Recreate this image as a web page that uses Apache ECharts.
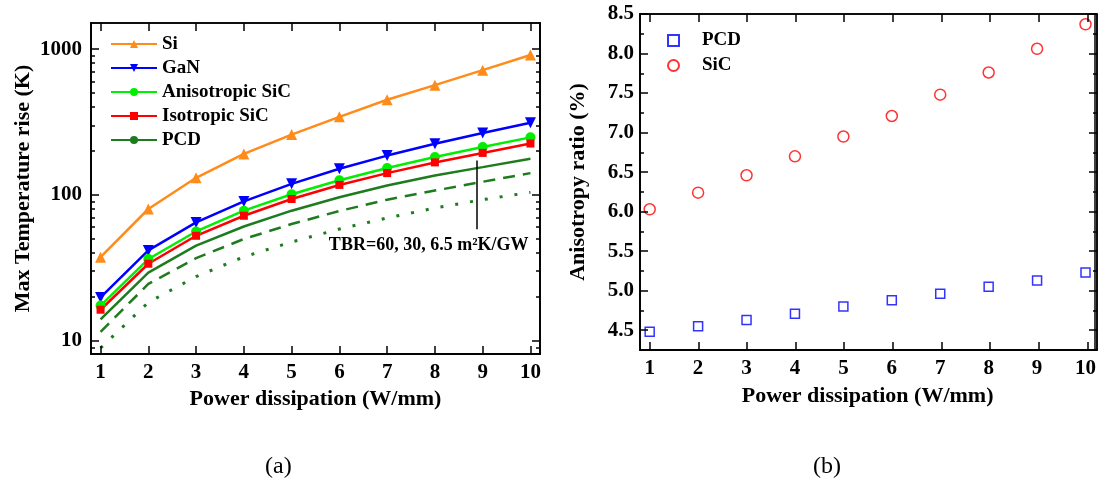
<!DOCTYPE html>
<html>
<head>
<meta charset="utf-8">
<script src="https://cdn.jsdelivr.net/npm/echarts@6/dist/echarts.min.js"></script>
<style>
  html, body { margin: 0; padding: 0; background: #fff; }
  #wrap { position: relative; width: 1099px; height: 487px; }
  #chart, #ticks { position: absolute; left: 0; top: 0; width: 1099px; height: 487px; }
  #ticks { pointer-events: none; }
</style>
</head>
<body>
<div id="wrap">
  <div id="chart"></div>
  <div id="ticks"></div>
</div>
<script>
// power dissipation (W/mm)
const power = [1, 2, 3, 4, 5, 6, 7, 8, 9, 10];

// (a) max temperature rise (K)
const tSi = [37.4, 80, 131, 191, 259, 343, 449, 566, 717, 910];
const tGaN = [19.8, 41.6, 64.7, 90.2, 119, 151, 186, 224, 266, 312];
const tAnisoSiC = [17.4, 36.3, 56.1, 77.9, 101, 126, 153, 182, 213, 248];
const tIsoSiC = [16.3, 33.7, 52.4, 71.9, 93.7, 117, 141, 167, 194, 225];
const tPcd60 = [14.0, 29.3, 44.8, 60.7, 77.9, 96.2, 116, 136, 155, 177];
const tPcd30 = [11.5, 24.5, 36.8, 49.8, 63.1, 77.5, 92.7, 107, 123, 141];
const tPcd6p5 = [8.9, 18.3, 27.5, 37.6, 47.5, 58.3, 69.4, 81.3, 92.7, 104];

// (b) anisotropy ratio (%)
const ratioPcd = [4.48, 4.55, 4.63, 4.71, 4.80, 4.88, 4.96, 5.05, 5.13, 5.23];
const ratioSiC = [6.03, 6.24, 6.46, 6.70, 6.95, 7.21, 7.48, 7.76, 8.06, 8.37];

// ticks
const logMajor = [10, 100, 1000];
const logMinor = [9, 20, 30, 40, 50, 60, 70, 80, 90, 200, 300, 400, 500, 600, 700, 800, 900];
const ratioMajor = [4.5, 5.0, 5.5, 6.0, 6.5, 7.0, 7.5, 8.0, 8.5];
const ratioMinor = [4.75, 5.25, 5.75, 6.25, 6.75, 7.25, 7.75, 8.25];

const FONT = '"Liberation Serif", "Times New Roman", serif';
const pairs = ys => power.map((x, i) => [x, ys[i]]);

const labelStyle = { color: '#000', fontFamily: FONT, fontWeight: 'bold', fontSize: 21 };
const nameStyle = { color: '#000', fontFamily: FONT, fontWeight: 'bold', fontSize: 22 };

const gridA = { left: 91, top: 23, width: 449, height: 331 };
const gridB = { left: 640, top: 14, width: 457, height: 336 };
const X_RANGE = { min: 0.8, max: 10.2 };
const LOG_RANGE = { type: 'log', min: 8.1, max: 1510 };
const RATIO_RANGE = { min: 4.25, max: 8.5 };

function axis(o) {
  return Object.assign({
    type: 'value',
    axisLine: { show: true, onZero: false, lineStyle: { color: '#000', width: 1.5 } },
    splitLine: { show: false },
    axisLabel: { show: false },
    axisTick: { show: false }
  }, o);
}

// ---- main chart: box lines, labels, names, data ----
const xAxes = [];
[0, 1].forEach(g => {
  xAxes.push(axis(Object.assign({
    gridIndex: g, position: 'bottom',
    axisLabel: Object.assign({ show: true, margin: 8, customValues: power }, labelStyle),
    name: 'Power dissipation (W/mm)', nameLocation: 'middle', nameGap: g === 0 ? 31 : 35, nameTextStyle: nameStyle
  }, X_RANGE)));
  xAxes.push(axis(Object.assign({ gridIndex: g, position: 'top' }, X_RANGE)));
});

const yAxes = [
  axis(Object.assign({
    gridIndex: 0, position: 'left',
    axisLabel: Object.assign({ show: true, margin: 9, customValues: logMajor, formatter: v => String(Math.round(v)) }, labelStyle),
    name: 'Max Temperature rise (K)', nameLocation: 'middle', nameGap: 57, nameTextStyle: nameStyle
  }, LOG_RANGE)),
  axis(Object.assign({ gridIndex: 0, position: 'right' }, LOG_RANGE)),
  axis(Object.assign({
    gridIndex: 1, position: 'left',
    axisLabel: Object.assign({ show: true, margin: 6, customValues: ratioMajor, formatter: v => v.toFixed(1) }, labelStyle),
    name: 'Anisotropy ratio (%)', nameLocation: 'middle', nameGap: 51, nameTextStyle: nameStyle
  }, RATIO_RANGE)),
  axis(Object.assign({ gridIndex: 1, position: 'right' }, RATIO_RANGE))
];

function tempLine(name, data, color, symbol, size, extra) {
  return Object.assign({
    name, type: 'line', xAxisIndex: 0, yAxisIndex: 0, data: pairs(data),
    symbol, symbolSize: size, showSymbol: symbol !== 'none',
    lineStyle: { color, width: 2.5 }, itemStyle: { color }
  }, extra || {});
}

const pcdGreen = '#1e7b1e';
const legendText = { color: '#000', fontFamily: FONT, fontWeight: 'bold', fontSize: 19 };

const option = {
  animation: false,
  backgroundColor: '#fff',
  grid: [gridA, gridB],
  xAxis: xAxes,
  yAxis: yAxes,
  legend: [
    {
      data: ['Si', 'GaN', 'Anisotropic SiC', 'Isotropic SiC', 'PCD'],
      orient: 'vertical', left: 105, top: 29, itemWidth: 46, itemHeight: 10, itemGap: 4,
      textStyle: Object.assign({ lineHeight: 20 }, legendText)
    },
    {
      data: ['PCD (b)', 'SiC (b)'],
      formatter: n => n.replace(' (b)', ''),
      orient: 'vertical', left: 662, top: 25, itemWidth: 11, itemHeight: 11, itemGap: 4,
      textStyle: Object.assign({ lineHeight: 21, padding: [0, 0, 0, 18] }, legendText)
    }
  ],
  series: [
    tempLine('Si', tSi, '#ff8c1a', 'triangle', 11),
    tempLine('GaN', tGaN, '#0000ff', 'triangle', 11, { symbolRotate: 180 }),
    tempLine('Anisotropic SiC', tAnisoSiC, '#00ee00', 'circle', 10),
    tempLine('Isotropic SiC', tIsoSiC, '#ff0000', 'rect', 8),
    tempLine('PCD', tPcd60, pcdGreen, 'none', 0, {
      markLine: {
        silent: true, symbol: ['none', 'arrow'], symbolSize: [0, 10],
        label: { show: false },
        lineStyle: { color: '#000', width: 1.5, type: 'solid' },
        data: [[{ coord: [8.88, 172] }, { coord: [8.88, 58] }]]
      },
      markPoint: {
        silent: true, symbol: 'circle', symbolSize: 0,
        label: { show: true, position: 'inside', formatter: 'TBR=60, 30, 6.5 m²K/GW', color: '#000', fontFamily: FONT, fontWeight: 'bold', fontSize: 18 },
        data: [{ coord: [7.87, 44.8] }]
      }
    }),
    tempLine('PCD TBR30', tPcd30, pcdGreen, 'none', 0, { lineStyle: { color: pcdGreen, width: 2.5, type: [12, 8] } }),
    tempLine('PCD TBR6.5', tPcd6p5, pcdGreen, 'none', 0, { lineStyle: { color: pcdGreen, width: 3, type: [3, 12] } }),
    {
      name: 'PCD (b)', type: 'scatter', xAxisIndex: 2, yAxisIndex: 2, data: pairs(ratioPcd),
      symbol: 'rect', symbolSize: 9,
      itemStyle: { color: '#fff', borderColor: '#0000ff', borderWidth: 1.5 }
    },
    {
      name: 'SiC (b)', type: 'scatter', xAxisIndex: 2, yAxisIndex: 2, data: pairs(ratioSiC),
      symbol: 'circle', symbolSize: 11,
      itemStyle: { color: '#fff', borderColor: '#ff0000', borderWidth: 1.5 }
    }
  ],
  graphic: [
    { type: 'text', left: 265, top: 455, style: { text: '(a)', font: '24px ' + FONT, fill: '#000' } },
    { type: 'text', left: 813, top: 455, style: { text: '(b)', font: '24px ' + FONT, fill: '#000' } }
  ]
};

const chart = echarts.init(document.getElementById('chart'));
chart.setOption(option);

// ---- overlay with only the inward tick marks (major + minor) ----
const tick = (vals, len) => ({ show: true, inside: true, length: len, customValues: vals, lineStyle: { color: '#000', width: 1.5 } });

const tickX = [];
const tickY = [];
const tickSeries = [];
[0, 1].forEach(i => {
  const yr = i === 0 ? LOG_RANGE : RATIO_RANGE;
  const major = i === 0 ? logMajor : ratioMajor;
  const minor = i === 0 ? logMinor : ratioMinor;
  const gMaj = i * 2, gMin = i * 2 + 1;
  tickX.push(axis(Object.assign({ gridIndex: gMaj, position: 'bottom', axisTick: tick(power, 8) }, X_RANGE)));
  tickX.push(axis(Object.assign({ gridIndex: gMaj, position: 'top', axisTick: tick(power, 8) }, X_RANGE)));
  tickX.push(axis(Object.assign({ gridIndex: gMin, position: 'bottom' }, X_RANGE)));
  tickY.push(axis(Object.assign({ gridIndex: gMaj, position: 'left', axisTick: tick(major, 8) }, yr)));
  tickY.push(axis(Object.assign({ gridIndex: gMaj, position: 'right', axisTick: tick(major, 8) }, yr)));
  tickY.push(axis(Object.assign({ gridIndex: gMin, position: 'left', axisTick: tick(minor, 4) }, yr)));
  tickY.push(axis(Object.assign({ gridIndex: gMin, position: 'right', axisTick: tick(minor, 4) }, yr)));
  tickSeries.push({ type: 'line', xAxisIndex: i * 3, yAxisIndex: i * 4, data: [] });
  tickSeries.push({ type: 'line', xAxisIndex: i * 3 + 2, yAxisIndex: i * 4 + 2, data: [] });
});

const tickChart = echarts.init(document.getElementById('ticks'));
tickChart.setOption({
  animation: false,
  backgroundColor: 'transparent',
  grid: [Object.assign({}, gridA), Object.assign({}, gridA), Object.assign({}, gridB), Object.assign({}, gridB)],
  xAxis: tickX,
  yAxis: tickY,
  series: tickSeries
});

window.addEventListener('resize', () => { chart.resize(); tickChart.resize(); });
</script>
</body>
</html>
